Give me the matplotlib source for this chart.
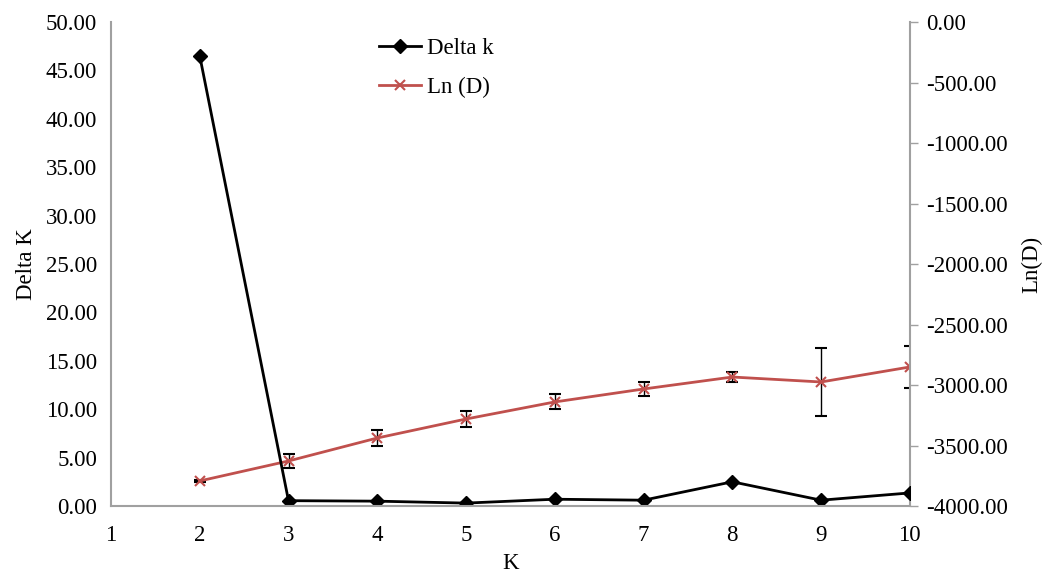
import matplotlib
matplotlib.use("Agg")
import matplotlib.pyplot as plt
from matplotlib.ticker import FormatStrFormatter
from matplotlib.lines import Line2D

plt.rcParams['font.family'] = ['Liberation Serif', 'DejaVu Serif']

K = [2, 3, 4, 5, 6, 7, 8, 9, 10]
delta_k = [46.5, 0.55, 0.5, 0.3, 0.7, 0.6, 2.5, 0.6, 1.35]
ln_d = [-3793, -3628, -3438, -3281, -3140, -3033, -2934, -2975, -2851]
ln_d_err = [10, 54, 66, 66, 62, 58, 40, 280, 170]

fs = 16.5
fig = plt.figure(figsize=(10.47, 5.75), dpi=100)
ax = fig.add_axes([0.106, 0.12, 0.763, 0.8417])
ax2 = ax.twinx()

ax.set_zorder(ax2.get_zorder() + 1)
ax.patch.set_visible(False)

red = '#C0504D'
ax2.errorbar(K, ln_d, yerr=ln_d_err, color=red, marker='x', markersize=7,
             markeredgewidth=1.5, linewidth=2, ecolor='black', elinewidth=1,
             capsize=4, capthick=1)
l1, = ax.plot(K, delta_k, color='black', marker='D', markersize=7, linewidth=2)

ax.set_xlim(1, 10)
ax.set_ylim(0, 50)
ax2.set_ylim(-4000, 0)
ax.set_xticks(range(1, 11))
ax.set_yticks([i * 5 for i in range(11)])
ax2.set_yticks([-4000 + i * 500 for i in range(9)])
ax.yaxis.set_major_formatter(FormatStrFormatter('%.2f'))
ax2.yaxis.set_major_formatter(FormatStrFormatter('%.2f'))

for a in (ax, ax2):
    for s in a.spines.values():
        s.set_visible(False)
ax.spines['left'].set_visible(True)
ax.spines['bottom'].set_visible(True)
ax2.spines['right'].set_visible(True)
for s in (ax.spines['left'], ax.spines['bottom'], ax2.spines['right']):
    s.set_color('#A0A0A0')
    s.set_linewidth(1.5)

ax.tick_params(axis='x', length=0, pad=14, labelsize=fs)
ax.tick_params(axis='y', length=0, pad=10, labelsize=fs)
ax2.tick_params(axis='y', length=6, width=1, color='#A0A0A0', pad=6, labelsize=fs)

ax.set_xlabel('K', fontsize=fs, labelpad=5)
ax.set_ylabel('Delta K', fontsize=fs, labelpad=6)
ax2.set_ylabel('Ln(D)', fontsize=fs, labelpad=9)

h1 = Line2D([], [], color='black', marker='D', markersize=7, linewidth=2)
h2 = Line2D([], [], color=red, marker='x', markersize=7, markeredgewidth=1.5, linewidth=2)
ax.legend([h1, h2], ['Delta k', 'Ln (D)'], loc='upper left',
          bbox_to_anchor=(0.31, 1.01), frameon=False, fontsize=fs,
          handlelength=1.8, handletextpad=0.3, labelspacing=0.8)

fig.savefig('out.png', dpi=100)
